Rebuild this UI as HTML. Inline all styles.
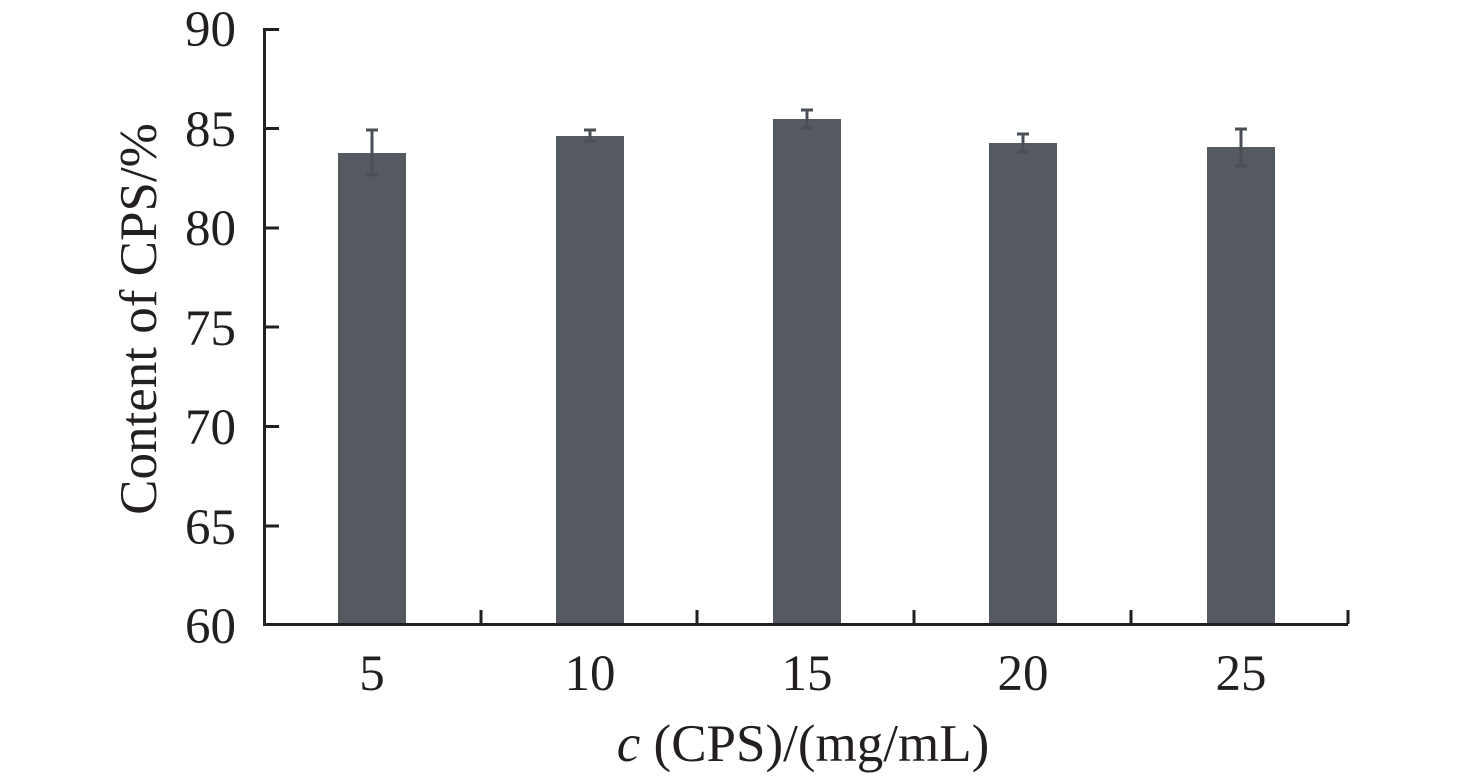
<!DOCTYPE html>
<html><head><style>body{margin:0;background:#fff}</style></head><body>
<svg width="1476" height="774" xmlns="http://www.w3.org/2000/svg" font-family="Liberation Serif, serif" font-size="51" fill="#231f20">
<rect width="1476" height="774" fill="#fff"/>
<g fill="#555a61">
<rect x="338" y="153" width="68" height="471"/>
<rect x="556" y="136" width="68" height="488"/>
<rect x="773" y="119" width="68" height="505"/>
<rect x="989" y="143" width="68" height="481"/>
<rect x="1207" y="147" width="68" height="477"/>
</g>
<g stroke="#4a4f55" stroke-width="3" fill="none">
<path d="M372 130V175M366 130H378M366 175H378"/>
<path d="M590 130V141M584 130H596M584 141H596"/>
<path d="M807 110V128M801 110H813M801 128H813"/>
<path d="M1023 134V152M1017 134H1029M1017 152H1029"/>
<path d="M1241 129V166M1235 129H1247M1235 166H1247"/>
</g>
<g stroke="#231f20" stroke-width="3" fill="none">
<path d="M264.5 28V624.5H1348"/>
<path d="M264 29.5H279M264 128.5H279M264 228H279M264 327H279M264 426.5H279M264 526H279"/>
<path d="M481 624V610M697 624V610M914 624V610M1131 624V610M1348 624V610"/>
</g>
<g text-anchor="end">
<text x="236" y="46">90</text><text x="236" y="146">85</text><text x="236" y="245">80</text>
<text x="236" y="345">75</text><text x="236" y="444">70</text><text x="236" y="544">65</text><text x="236" y="643">60</text>
</g>
<g text-anchor="middle">
<text x="372" y="690">5</text><text x="590" y="690">10</text><text x="807" y="690">15</text>
<text x="1023" y="690">20</text><text x="1241" y="690">25</text>
<text x="803" y="761" font-size="53"><tspan font-style="italic">c</tspan> (CPS)/(mg/mL)</text>
<text transform="translate(156,319) rotate(-90)" font-size="53">Content of CPS/%</text>
</g>
</svg>
</body></html>
